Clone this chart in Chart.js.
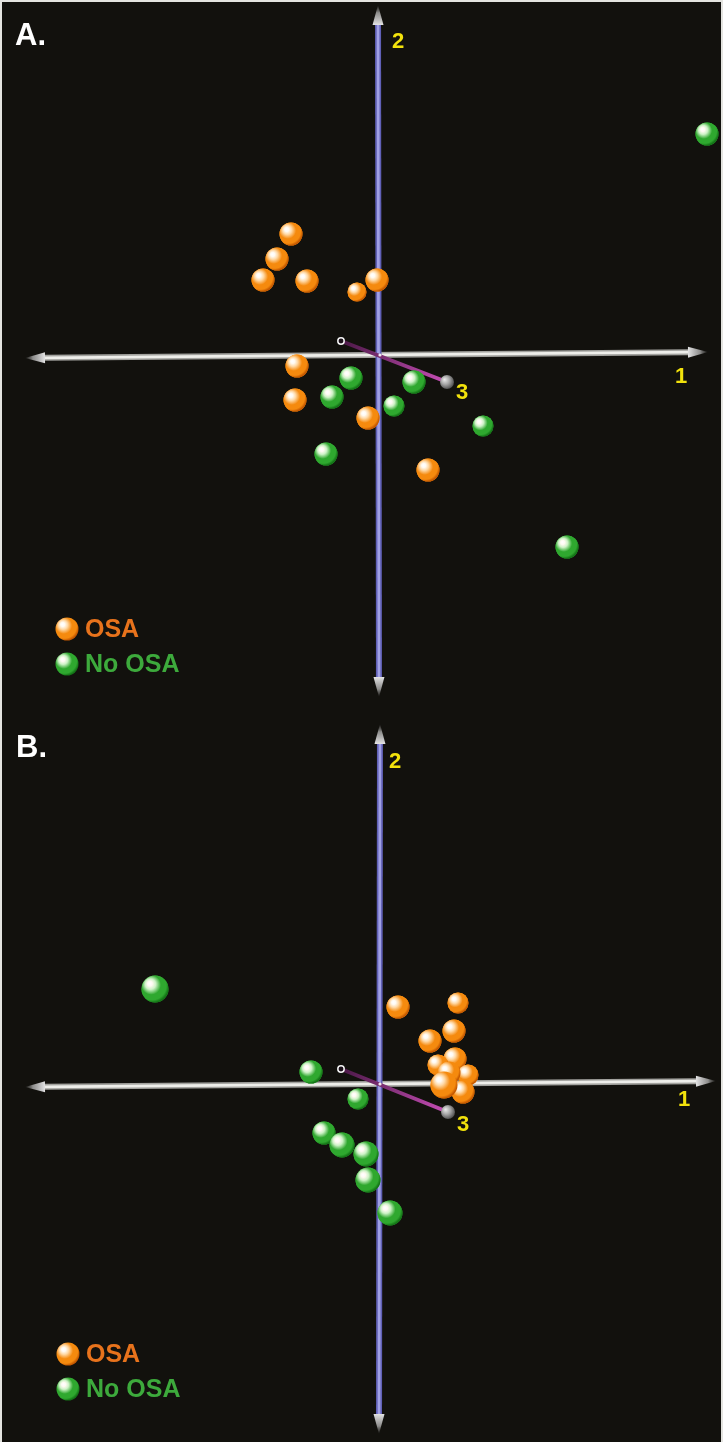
<!DOCTYPE html>
<html>
<head>
<meta charset="utf-8">
<script src="https://cdn.jsdelivr.net/npm/chart.js@4"></script>
<style>
  html, body { margin: 0; padding: 0; background: #12110d; }
  #wrap { position: relative; width: 723px; height: 1442px; background: #12110d; overflow: hidden; }
  canvas { display: block; }
  #frame { position: absolute; left: 0; top: 0; width: 723px; height: 1442px; box-sizing: border-box;
           border-top: 2px solid #e4e4e0; border-left: 2px solid #e4e4e0; border-right: 2px solid #e4e4e0;
           pointer-events: none; }
</style>
</head>
<body>
<div id="wrap">
  <canvas id="chartA" width="723" height="721"></canvas>
  <canvas id="chartB" width="723" height="721"></canvas>
  <div id="frame"></div>
</div>
<script>
// ---------------- DATA (component scores: x = PC1, y = PC2, z = PC3 depth) ----------------
const seriesNames = ["OSA", "No OSA"];
const axisNames = ["1", "2", "3"];

// Panel A
const panelA_OSA = [
  {x:-0.89,y:1.21,z:0},{x:-1.03,y:0.96,z:0},{x:-1.17,y:0.75,z:0},{x:-0.73,y:0.74,z:0},
  {x:-0.23,y:0.63,z:-1},{x:-0.03,y:0.75,z:0},{x:-0.83,y:-0.11,z:0},{x:-0.85,y:-0.45,z:0},
  {x:-0.12,y:-0.63,z:0},{x:0.48,y:-1.15,z:0}
];
const panelA_NoOSA = [
  {x:3.27,y:2.21,z:0},{x:-0.29,y:-0.23,z:0},{x:-0.48,y:-0.42,z:0},{x:0.34,y:-0.27,z:0},
  {x:0.14,y:-0.51,z:-0.5},{x:1.03,y:-0.71,z:-0.5},{x:-0.54,y:-0.99,z:0},{x:1.87,y:-1.92,z:0}
];

// Panel B
const panelB_OSA = [
  {x:0.18,y:0.77,z:0},{x:0.78,y:0.81,z:-0.5},{x:0.74,y:0.53,z:0},{x:0.50,y:0.43,z:0},
  {x:0.75,y:0.25,z:0},{x:0.58,y:0.19,z:-0.5},{x:0.88,y:0.09,z:-0.5},{x:0.69,y:0.11,z:0},
  {x:0.83,y:-0.08,z:0},{x:0.64,y:-0.01,z:1}
];
const panelB_NoOSA = [
  {x:-2.25,y:0.95,z:1},{x:-0.69,y:0.12,z:0},{x:-0.22,y:-0.15,z:-0.5},{x:-0.56,y:-0.49,z:0},
  {x:-0.38,y:-0.61,z:0.5},{x:-0.14,y:-0.70,z:0.5},{x:-0.12,y:-0.96,z:0.5},{x:0.10,y:-1.29,z:0.5}
];

// Projected axis end points (data units) for each panel
const axesA = {
  a1: [{x:-3.55,y:-0.03},{x:3.28,y:0.03}],
  a2: [{x:-0.02,y:3.50},{x:-0.01,y:-3.42}],
  a3: [{x:-0.39,y:0.14},{x:0.67,y:-0.27}],
  labels: [{x:3.01,y:-0.22},{x:0.18,y:3.13},{x:0.82,y:-0.38}]
};
const axesB = {
  a1: [{x:-3.55,y:-0.03},{x:3.36,y:0.03}],
  a2: [{x:0.00,y:3.60},{x:-0.01,y:-3.50}],
  a3: [{x:-0.39,y:0.15},{x:0.68,y:-0.28}],
  labels: [{x:3.04,y:-0.16},{x:0.15,y:3.22},{x:0.83,y:-0.41}]
};

// ---------------- STYLE ----------------
const ORANGE = {base:'#f58a0e', light:'#ffd9a6', dark:'#c45800', text:'#e8731c'};
const GREEN  = {base:'#2fa82f', light:'#cdf2c6', dark:'#137416', text:'#3daa3c'};
const COLS = [ORANGE, GREEN];

function radiusFor(z) { return 11.5 + 2 * (z || 0); }

function sphereGradient(ctx, x, y, r, col) {
  const g = ctx.createRadialGradient(x - 0.4*r, y - 0.42*r, 0.5, x - 0.2*r, y - 0.22*r, r * 1.22);
  g.addColorStop(0, '#ffffff');
  g.addColorStop(0.12, '#fffaf2');
  g.addColorStop(0.3, col.light);
  g.addColorStop(0.58, col.base);
  g.addColorStop(0.86, col.base);
  g.addColorStop(1, col.dark);
  return g;
}

function drawArrowHead(ctx, tip, dir, len, halfW) {
  const bx = tip.x - dir.x*len, by = tip.y - dir.y*len;
  const nx = -dir.y, ny = dir.x;
  const g = ctx.createLinearGradient(bx, by, tip.x, tip.y);
  g.addColorStop(0, 'rgba(228,228,228,1)');
  g.addColorStop(0.6, 'rgba(185,185,185,0.75)');
  g.addColorStop(1, 'rgba(140,140,140,0.05)');
  ctx.fillStyle = g;
  ctx.beginPath();
  ctx.moveTo(bx + nx*halfW, by + ny*halfW);
  ctx.lineTo(tip.x, tip.y);
  ctx.lineTo(bx - nx*halfW, by - ny*halfW);
  ctx.closePath();
  ctx.fill();
}

function drawAxis(ctx, p0, p1, outer, inner, width) {
  const dx = p1.x - p0.x, dy = p1.y - p0.y;
  const L = Math.hypot(dx, dy);
  const dir = {x: dx/L, y: dy/L};
  const al = 20;
  const s0 = {x: p0.x + dir.x*al, y: p0.y + dir.y*al};
  const s1 = {x: p1.x - dir.x*al, y: p1.y - dir.y*al};
  ctx.save();
  ctx.lineCap = 'butt';
  ctx.strokeStyle = outer; ctx.lineWidth = width;
  ctx.beginPath(); ctx.moveTo(s0.x, s0.y); ctx.lineTo(s1.x, s1.y); ctx.stroke();
  ctx.strokeStyle = inner; ctx.lineWidth = width * 0.45;
  ctx.beginPath(); ctx.moveTo(s0.x, s0.y); ctx.lineTo(s1.x, s1.y); ctx.stroke();
  drawArrowHead(ctx, p1, dir, al, 5.5);
  drawArrowHead(ctx, p0, {x:-dir.x, y:-dir.y}, al, 5.5);
  ctx.restore();
}

function makeAxesPlugin(axes, legendPos, panelLabel, panelLabelPos) {
  return {
    id: 'pcaAxes',
    beforeDatasetsDraw(chart) {
      const ctx = chart.ctx;
      const sx = chart.scales.x, sy = chart.scales.y;
      const P = p => ({x: sx.getPixelForValue(p.x), y: sy.getPixelForValue(p.y)});
      drawAxis(ctx, P(axes.a1[0]), P(axes.a1[1]), '#a2a29e', '#eeeeea', 6);
      drawAxis(ctx, P(axes.a2[0]), P(axes.a2[1]), '#6060b6', '#a0a0e4', 6);
      const b = P(axes.a3[0]), f = P(axes.a3[1]);
      ctx.save();
      const g = ctx.createLinearGradient(b.x, b.y, f.x, f.y);
      g.addColorStop(0, '#4a1846');
      g.addColorStop(1, '#c94fb8');
      ctx.strokeStyle = g; ctx.lineWidth = 4; ctx.lineCap = 'round';
      ctx.beginPath(); ctx.moveTo(b.x, b.y); ctx.lineTo(f.x, f.y); ctx.stroke();
      ctx.beginPath(); ctx.arc(b.x, b.y, 3.2, 0, Math.PI*2);
      ctx.fillStyle = '#1a1018'; ctx.fill();
      ctx.strokeStyle = '#f4f4f4'; ctx.lineWidth = 1.5; ctx.stroke();
      const gg = ctx.createRadialGradient(f.x-2.5, f.y-2.5, 0.3, f.x-1, f.y-1, 8);
      gg.addColorStop(0, '#e8e8e8'); gg.addColorStop(0.5, '#a8a8a8'); gg.addColorStop(1, '#555555');
      ctx.fillStyle = gg;
      ctx.beginPath(); ctx.arc(f.x, f.y, 7, 0, Math.PI*2); ctx.fill();
      const o = P({x:0, y:0});
      ctx.fillStyle = '#f0e8f0';
      ctx.beginPath(); ctx.arc(o.x, o.y, 1.6, 0, Math.PI*2); ctx.fill();
      ctx.restore();
    },
    afterDatasetDraw(chart, args) {
      const ctx = chart.ctx;
      const meta = args.meta;
      const col = COLS[args.index];
      ctx.save();
      meta.data.forEach(el => {
        const r = el.options.radius;
        if (!isFinite(el.x) || !isFinite(el.y)) return;
        ctx.fillStyle = sphereGradient(ctx, el.x, el.y, r, col);
        ctx.beginPath(); ctx.arc(el.x, el.y, r, 0, Math.PI*2); ctx.fill();
      });
      ctx.restore();
    },
    afterDatasetsDraw(chart) {
      const ctx = chart.ctx;
      const sx = chart.scales.x, sy = chart.scales.y;
      ctx.save();
      ctx.fillStyle = '#f2e20c';
      ctx.font = 'bold 22px "Liberation Sans", Arial, sans-serif';
      ctx.textAlign = 'center'; ctx.textBaseline = 'middle';
      axes.labels.forEach((p, i) => {
        ctx.fillText(axisNames[i], sx.getPixelForValue(p.x), sy.getPixelForValue(p.y));
      });
      ctx.fillStyle = '#ffffff';
      ctx.font = 'bold 31px "Liberation Sans", Arial, sans-serif';
      ctx.textAlign = 'left'; ctx.textBaseline = 'alphabetic';
      ctx.fillText(panelLabel, panelLabelPos.x, panelLabelPos.y);
      ctx.font = 'bold 25px "Liberation Sans", Arial, sans-serif';
      ctx.textBaseline = 'middle';
      seriesNames.forEach((name, i) => {
        const cx = legendPos.x, cy = legendPos.y + i*35;
        ctx.fillStyle = sphereGradient(ctx, cx, cy, 11.5, COLS[i]);
        ctx.beginPath(); ctx.arc(cx, cy, 11.5, 0, Math.PI*2); ctx.fill();
        ctx.fillStyle = COLS[i].text;
        ctx.fillText(name, cx + 18, cy + 1);
      });
      ctx.restore();
    }
  };
}

function makeChart(id, osa, noOsa, axes, yMin, yMax, legendPos, label, labelPos) {
  return new Chart(document.getElementById(id), {
    type: 'scatter',
    data: {
      datasets: [
        { label: seriesNames[0], data: osa,
          pointRadius: c => radiusFor(c.raw && c.raw.z),
          pointBackgroundColor: ORANGE.base, pointBorderWidth: 0, borderWidth: 0 },
        { label: seriesNames[1], data: noOsa,
          pointRadius: c => radiusFor(c.raw && c.raw.z),
          pointBackgroundColor: GREEN.base, pointBorderWidth: 0, borderWidth: 0 }
      ]
    },
    options: {
      responsive: false,
      animation: false,
      events: [],
      layout: { padding: 0, autoPadding: false },
      plugins: { legend: { display: false }, tooltip: { enabled: false } },
      scales: {
        x: { type: 'linear', min: -3.80, max: 3.43, display: false },
        y: { type: 'linear', min: yMin, max: yMax, display: false }
      }
    },
    plugins: [makeAxesPlugin(axes, legendPos, label, labelPos)]
  });
}

makeChart('chartA', panelA_OSA, panelA_NoOSA, axesA, -3.66, 3.55, {x:67, y:629}, 'A.', {x:15, y:45});
makeChart('chartB', panelB_OSA, panelB_NoOSA, axesB, -3.58, 3.63, {x:68, y:633}, 'B.', {x:16, y:36});
</script>
</body>
</html>
